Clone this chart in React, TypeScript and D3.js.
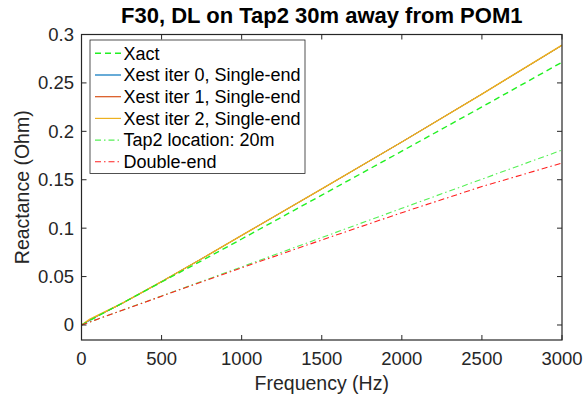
import React from "react";
import * as d3 from "d3";

const freq = [0, 50, 100, 250, 500, 750, 1000, 1500, 2000, 2500, 3000];
const xact = [0, 0.0045, 0.009, 0.0222, 0.0444, 0.0664, 0.0888, 0.1341, 0.1795, 0.2252, 0.2714];
const iter0 = [0, 0.0046, 0.0092, 0.0219, 0.0448, 0.0684, 0.0925, 0.1405, 0.189, 0.2385, 0.2888];
const iter1 = [0, 0.0052, 0.0095, 0.022, 0.0448, 0.0684, 0.0925, 0.1405, 0.189, 0.2385, 0.2889];
const iter2 = [0, 0.0058, 0.0098, 0.0221, 0.0448, 0.0684, 0.0925, 0.1405, 0.189, 0.2385, 0.289];
const tap2 = [0, 0.003, 0.006, 0.015, 0.030, 0.045, 0.060, 0.0903, 0.1205, 0.1506, 0.1806];
const doubleEnd = [0, 0.003, 0.006, 0.0149, 0.0297, 0.0445, 0.0591, 0.0878, 0.116, 0.143, 0.1672];

const xTicks = [0, 500, 1000, 1500, 2000, 2500, 3000];
const yTicks = [0, 0.05, 0.1, 0.15, 0.2, 0.25, 0.3];
const yTickLabels = ["0", "0.05", "0.1", "0.15", "0.2", "0.25", "0.3"];

const seriesNames = [
  "Xact",
  "Xest iter 0, Single-end",
  "Xest iter 1, Single-end",
  "Xest iter 2, Single-end",
  "Tap2 location: 20m",
  "Double-end",
];

const FONT = "'Liberation Sans', Arial, Helvetica, sans-serif";

export default function App() {
  const W = 586, H = 396;
  const L = 81.5, R = 562, T = 34.5, B = 340;
  const x = d3.scaleLinear().domain([0, 3000]).range([L, R]);
  const y = d3.scaleLinear().domain([-0.0155, 0.3]).range([B, T]);
  const line = d3.line<number>().x((_, i) => x(freq[i])).y((v) => y(v));

  const series = [
    { name: seriesNames[1], data: iter0, color: "#0072BD", dash: "none", w: 1.0, lw: 1.2 },
    { name: seriesNames[2], data: iter1, color: "#D95319", dash: "none", w: 1.0, lw: 1.2 },
    { name: seriesNames[3], data: iter2, color: "#EDB120", dash: "none", w: 1.4, lw: 1.2 },
    { name: seriesNames[0], data: xact, color: "#22F022", dash: "6,4", w: 1.4, lw: 1.4 },
    { name: seriesNames[4], data: tap2, color: "#55F055", dash: "6,3,1.5,3", w: 1.1, lw: 1.1 },
    { name: seriesNames[5], data: doubleEnd, color: "#FF2020", dash: "6,3,1.5,3", w: 1.1, lw: 1.1 },
  ];
  const legendOrder = [3, 0, 1, 2, 4, 5];
  const axisColor = "#262626";
  const tickLen = 5;

  return (
    <svg width={W} height={H} style={{ position: "absolute", left: 0, top: 0, background: "#fff" }}>
      <rect x={0} y={0} width={W} height={H} fill="#fff" />
      <text x={(L + R) / 2} y={23} textAnchor="middle" fontFamily={FONT} fontWeight="bold" fontSize={22} fill="#000">
        F30, DL on Tap2 30m away from POM1
      </text>
      <defs>
        <clipPath id="plotclip">
          <rect x={L} y={T} width={R - L} height={B - T} />
        </clipPath>
      </defs>
      <g clipPath="url(#plotclip)">
        {series.map((s, i) => (
          <path key={i} d={line(s.data) || ""} fill="none" stroke={s.color} strokeWidth={s.w} strokeDasharray={s.dash} />
        ))}
      </g>
      <rect x={L} y={T} width={R - L} height={B - T} fill="none" stroke={axisColor} strokeWidth={1.2} />
      {xTicks.map((t) => (
        <g key={"x" + t}>
          <line x1={x(t)} x2={x(t)} y1={B} y2={B - tickLen} stroke={axisColor} strokeWidth={1} />
          <line x1={x(t)} x2={x(t)} y1={T} y2={T + tickLen} stroke={axisColor} strokeWidth={1} />
          <text x={x(t)} y={365} textAnchor="middle" fontFamily={FONT} fontSize={18.5} fill="#262626">
            {t}
          </text>
        </g>
      ))}
      {yTicks.map((t, i) => (
        <g key={"y" + t}>
          <line x1={L} x2={L + tickLen} y1={y(t)} y2={y(t)} stroke={axisColor} strokeWidth={1} />
          <line x1={R} x2={R - tickLen} y1={y(t)} y2={y(t)} stroke={axisColor} strokeWidth={1} />
          <text x={74} y={y(t) + 6.5} textAnchor="end" fontFamily={FONT} fontSize={18.5} fill="#262626">
            {yTickLabels[i]}
          </text>
        </g>
      ))}
      <text x={(L + R) / 2} y={390} textAnchor="middle" fontFamily={FONT} fontSize={19.5} fill="#262626">
        Frequency (Hz)
      </text>
      <text transform={`translate(29, ${(T + B) / 2}) rotate(-90)`} textAnchor="middle" fontFamily={FONT} fontSize={19.5} fill="#262626">
        Reactance (Ohm)
      </text>
      <rect x={90} y={40} width={215} height={133.5} fill="#fff" stroke={axisColor} strokeWidth={0.8} />
      {legendOrder.map((si, k) => {
        const s = series[si];
        const cy = 53.3 + k * 21.7;
        return (
          <g key={"lg" + k}>
            <line x1={95} x2={121} y1={cy} y2={cy} stroke={s.color} strokeWidth={s.lw} strokeDasharray={s.dash} />
            <text x={123.5} y={cy + 6.3} fontFamily={FONT} fontSize={18} fill="#000">
              {s.name}
            </text>
          </g>
        );
      })}
    </svg>
  );
}
